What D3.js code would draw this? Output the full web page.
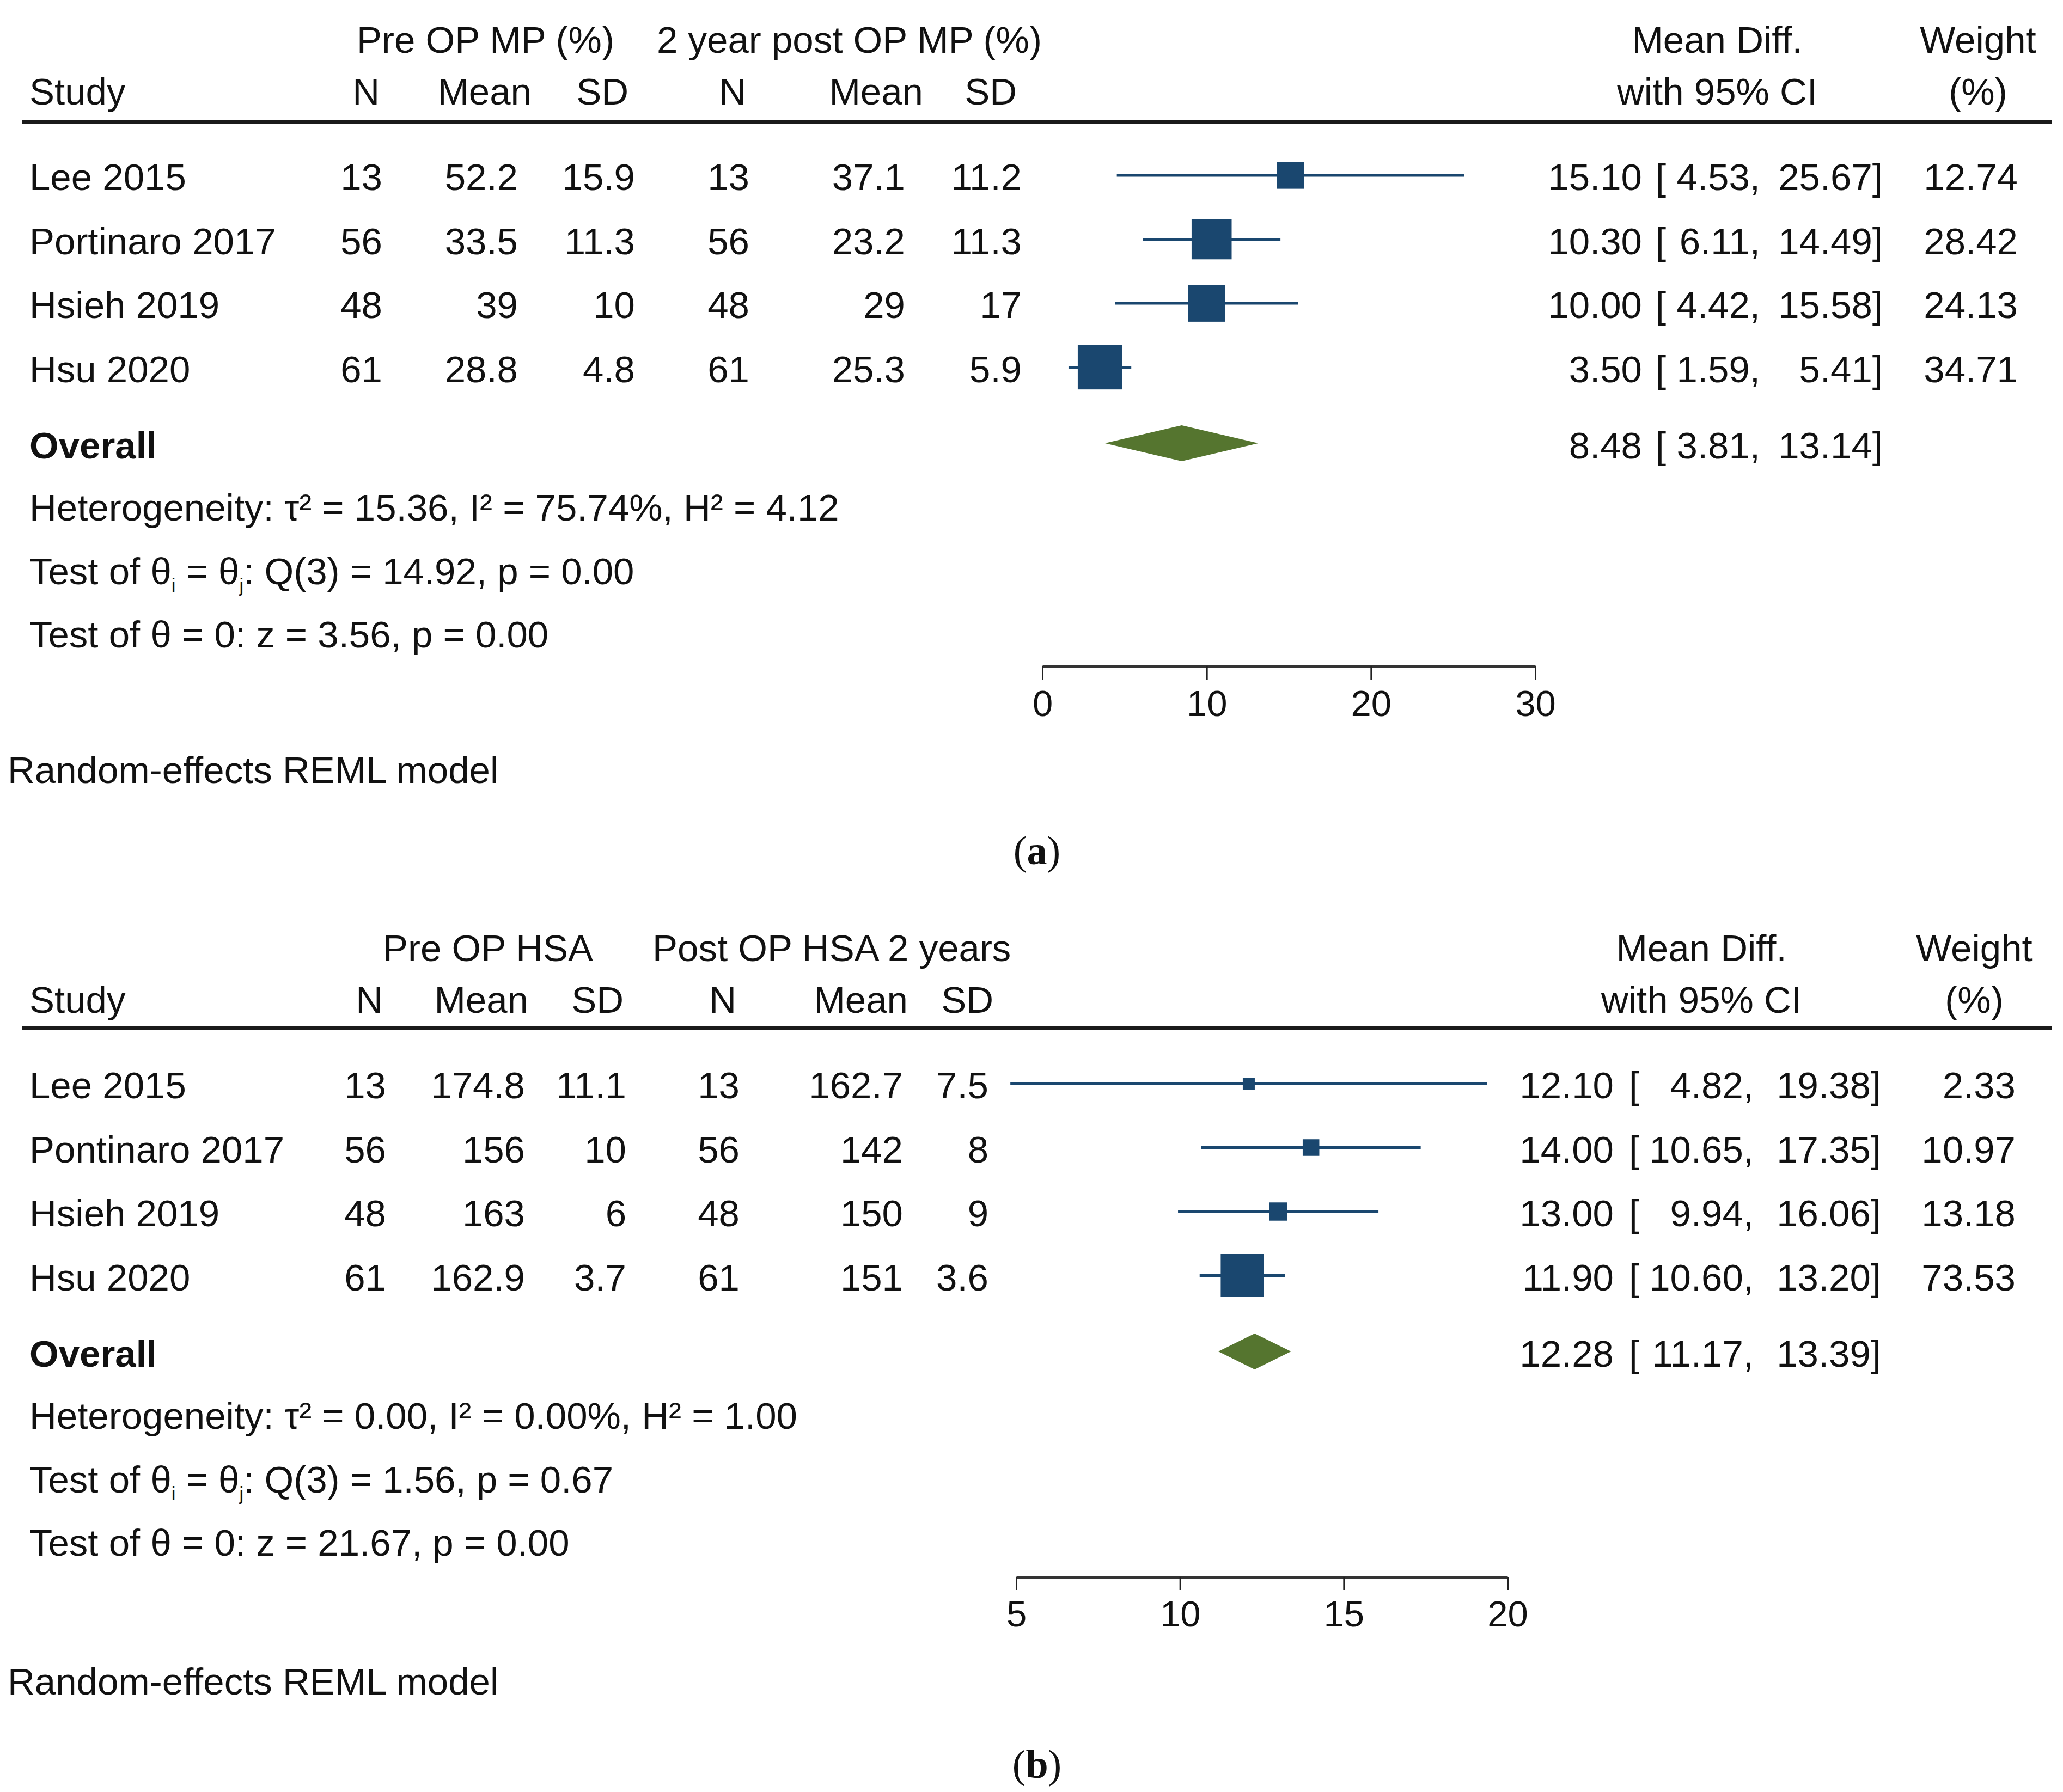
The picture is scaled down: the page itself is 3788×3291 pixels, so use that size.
<!DOCTYPE html>
<html>
<head>
<meta charset="utf-8">
<script src="https://cdn.jsdelivr.net/npm/d3@7"></script>
<style>
  body { margin: 0; background: #fff; }
  text { font-family: "Liberation Sans", Arial, Helvetica, sans-serif; fill: #111; }
</style>
</head>
<body>
<svg id="chart" width="3788" height="3291"></svg>
<script>
// ---- panel (a): mean pocket probing (MP %) ----
const studiesA = ["Lee 2015", "Portinaro 2017", "Hsieh 2019", "Hsu 2020"];
const preNA = [13, 56, 48, 61];
const preMeanA = [52.2, 33.5, 39, 28.8];
const preSdA = [15.9, 11.3, 10, 4.8];
const postNA = [13, 56, 48, 61];
const postMeanA = [37.1, 23.2, 29, 25.3];
const postSdA = [11.2, 11.3, 17, 5.9];
const diffA = [15.10, 10.30, 10.00, 3.50];
const lowA = [4.53, 6.11, 4.42, 1.59];
const highA = [25.67, 14.49, 15.58, 5.41];
const weightA = [12.74, 28.42, 24.13, 34.71];
const overallA = [8.48, 3.81, 13.14];
const ticksA = [0, 10, 20, 30];
const groupsA = ["Pre OP MP (%)", "2 year post OP MP (%)"];
const statsA = [
  ["Heterogeneity: τ² = 15.36, I² = 75.74%, H² = 4.12"],
  ["Test of θ", ["i"], " = θ", ["j"], ": Q(3) = 14.92, p = 0.00"],
  ["Test of θ = 0: z = 3.56, p = 0.00"]
];

// ---- panel (b): HSA ----
const studiesB = ["Lee 2015", "Pontinaro 2017", "Hsieh 2019", "Hsu 2020"];
const preNB = [13, 56, 48, 61];
const preMeanB = [174.8, 156, 163, 162.9];
const preSdB = [11.1, 10, 6, 3.7];
const postNB = [13, 56, 48, 61];
const postMeanB = [162.7, 142, 150, 151];
const postSdB = [7.5, 8, 9, 3.6];
const diffB = [12.10, 14.00, 13.00, 11.90];
const lowB = [4.82, 10.65, 9.94, 10.60];
const highB = [19.38, 17.35, 16.06, 13.20];
const weightB = [2.33, 10.97, 13.18, 73.53];
const overallB = [12.28, 11.17, 13.39];
const ticksB = [5, 10, 15, 20];
const groupsB = ["Pre OP HSA", "Post OP HSA 2 years"];
const statsB = [
  ["Heterogeneity: τ² = 0.00, I² = 0.00%, H² = 1.00"],
  ["Test of θ", ["i"], " = θ", ["j"], ": Q(3) = 1.56, p = 0.67"],
  ["Test of θ = 0: z = 21.67, p = 0.00"]
];

const NAVY = "#1a476f";
const GREEN = "#55752f";
const FS = 69;

const svg = d3.select("#chart");
svg.append("rect").attr("width", 3788).attr("height", 3291).attr("fill", "#fff");

const fmt2 = d3.format(".2f");

function drawPanel(cfg) {
  const g = svg.append("g").attr("transform", `translate(0,${cfg.offsetY})`);
  const x = d3.scaleLinear().domain(cfg.domain).range(cfg.range);
  const rowY = d3.scaleLinear().domain([0, 1]).range([349, 466.5]);
  const markY = i => rowY(i) - 27;
  const overallY = 842;

  const txt = (xx, yy, s, anchor = "start", weight = "normal") =>
    g.append("text").attr("x", xx).attr("y", yy).attr("text-anchor", anchor)
      .attr("font-size", FS).attr("font-weight", weight).text(s);

  // headers
  txt(cfg.group1X, 97, cfg.groups[0]);
  txt(cfg.group2X, 97, cfg.groups[1]);
  txt(54, 192, "Study");
  ["N", "Mean", "SD", "N", "Mean", "SD"].forEach((h, k) => txt(cfg.headCols[k], 192, h, "end"));
  txt(cfg.mdHeadX, 97, "Mean Diff.", "middle");
  txt(cfg.mdHeadX, 192, "with 95% CI", "middle");
  txt(cfg.wHeadX, 97, "Weight", "middle");
  txt(cfg.wHeadX, 192, "(%)", "middle");

  g.append("line").attr("x1", 41).attr("x2", 3767).attr("y1", cfg.ruleY).attr("y2", cfg.ruleY)
    .attr("stroke", "#1a1a1a").attr("stroke-width", 6);

  // study rows
  const cols = [cfg.preN, cfg.preMean, cfg.preSd, cfg.postN, cfg.postMean, cfg.postSd];
  cfg.studies.forEach((s, i) => {
    txt(54, rowY(i), s);
    cols.forEach((arr, k) => txt(cfg.dataCols[k], rowY(i), String(arr[i]), "end"));
    txt(cfg.estX, rowY(i), fmt2(cfg.diff[i]), "end");
    txt(cfg.brX, rowY(i), "[");
    txt(cfg.lowX, rowY(i), fmt2(cfg.low[i]) + ",", "end");
    txt(cfg.highX, rowY(i), fmt2(cfg.high[i]) + "]", "end");
    txt(cfg.wX, rowY(i), fmt2(cfg.weight[i]), "end");
  });

  // CI lines + weighted squares
  const marks = g.append("g");
  marks.selectAll("line.ci").data(cfg.studies).join("line").attr("class", "ci")
    .attr("x1", (d, i) => x(cfg.low[i])).attr("x2", (d, i) => x(cfg.high[i]))
    .attr("y1", (d, i) => markY(i)).attr("y2", (d, i) => markY(i))
    .attr("stroke", NAVY).attr("stroke-width", 5);
  marks.selectAll("rect.sq").data(cfg.studies).join("rect").attr("class", "sq")
    .attr("x", (d, i) => x(cfg.diff[i]) - cfg.side(cfg.weight[i]) / 2)
    .attr("y", (d, i) => markY(i) - cfg.side(cfg.weight[i]) / 2)
    .attr("width", (d, i) => cfg.side(cfg.weight[i]))
    .attr("height", (d, i) => cfg.side(cfg.weight[i]))
    .attr("fill", NAVY);

  // overall
  txt(54, overallY, "Overall", "start", "bold");
  const [est, lo, hi] = cfg.overall;
  const dy = overallY - 28;
  g.append("path")
    .attr("d", `M${x(lo)},${dy} L${x(est)},${dy - 33} L${x(hi)},${dy} L${x(est)},${dy + 33} Z`)
    .attr("fill", GREEN);
  txt(cfg.estX, overallY, fmt2(est), "end");
  txt(cfg.brX, overallY, "[");
  txt(cfg.lowX, overallY, fmt2(lo) + ",", "end");
  txt(cfg.highX, overallY, fmt2(hi) + "]", "end");

  // stats lines (subscripts i / j placed with absolute y)
  cfg.stats.forEach((parts, j) => {
    const yy = 956 + j * 116.5;
    const t = g.append("text").attr("x", 54).attr("y", yy).attr("font-size", FS);
    parts.forEach(p => {
      if (Array.isArray(p)) {
        t.append("tspan").attr("y", yy + 14).attr("font-size", FS * 0.5).text(p[0]);
      } else {
        t.append("tspan").attr("y", yy).text(p);
      }
    });
  });

  // axis
  const axis = d3.axisBottom(x).tickValues(cfg.ticks).tickSize(24).tickSizeOuter(0).tickPadding(19);
  const ax = g.append("g").attr("transform", `translate(0,${cfg.axisY})`).call(axis);
  ax.select(".domain").attr("stroke", "#333").attr("stroke-width", 5);
  ax.selectAll(".tick line").attr("stroke", "#222").attr("stroke-width", 3);
  ax.selectAll(".tick text").attr("font-size", 67).attr("fill", "#111")
    .attr("font-family", "Liberation Sans, Arial, sans-serif");

  txt(14, cfg.modelY, "Random-effects REML model");

  // panel label
  const lab = g.append("text").attr("x", 1904).attr("y", cfg.labelY).attr("text-anchor", "middle")
    .attr("font-size", 74).style("font-family", "'Liberation Serif', 'Times New Roman', serif");
  lab.append("tspan").text("(");
  lab.append("tspan").attr("font-weight", "bold").text(cfg.label);
  lab.append("tspan").text(")");
}

drawPanel({
  offsetY: 0, domain: [0, 30], range: [1914, 2819], ticks: ticksA,
  groups: groupsA, group1X: 655, group2X: 1206,
  headCols: [697, 976, 1154, 1370, 1695, 1867],
  dataCols: [702, 951, 1166, 1376, 1662, 1876],
  mdHeadX: 3153, wHeadX: 3632,
  estX: 3015, brX: 3040, lowX: 3232, highX: 3457, wX: 3705,
  ruleY: 224, axisY: 1224, modelY: 1438, labelY: 1587, label: "a",
  studies: studiesA, preN: preNA, preMean: preMeanA, preSd: preSdA,
  postN: postNA, postMean: postMeanA, postSd: postSdA,
  diff: diffA, low: lowA, high: highA, weight: weightA, overall: overallA,
  stats: statsA,
  side: w => 13.8 * Math.sqrt(w)
});

const sideB = d3.scaleSqrt().domain([0, d3.max(weightB)]).range([0, 79]);
drawPanel({
  offsetY: 1668, domain: [5, 20], range: [1866, 2768], ticks: ticksB,
  groups: groupsB, group1X: 703, group2X: 1198,
  headCols: [703, 970, 1145, 1352, 1667, 1824],
  dataCols: [709, 964, 1150, 1358, 1658, 1815],
  mdHeadX: 3124, wHeadX: 3625,
  estX: 2963, brX: 2991, lowX: 3220, highX: 3454, wX: 3701,
  ruleY: 220, axisY: 1228, modelY: 1444, labelY: 1597, label: "b",
  studies: studiesB, preN: preNB, preMean: preMeanB, preSd: preSdB,
  postN: postNB, postMean: postMeanB, postSd: postSdB,
  diff: diffB, low: lowB, high: highB, weight: weightB, overall: overallB,
  stats: statsB,
  side: w => Math.max(22, sideB(w))
});
</script>
</body>
</html>
